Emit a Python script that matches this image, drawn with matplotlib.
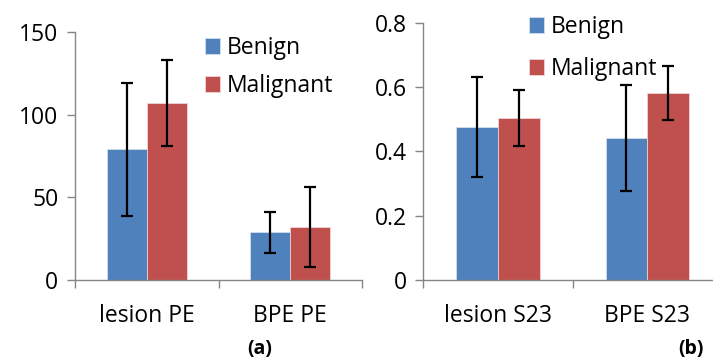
import matplotlib.pyplot as plt
import numpy as np

plt.rcParams['font.family'] = ['Open Sans', 'DejaVu Sans']

groups = ['Benign', 'Malignant']
colors = ['#4F81BD', '#C0504D']

pe_labels = ['lesion PE', 'BPE PE']
pe_benign = [79, 29]
pe_benign_err = [40, 12.4]
pe_malig = [107, 32]
pe_malig_err = [26, 24]

s23_labels = ['lesion S23', 'BPE S23']
s23_benign = [0.475, 0.441]
s23_benign_err = [0.156, 0.164]
s23_malig = [0.504, 0.581]
s23_malig_err = [0.088, 0.084]

W, H = 713, 360
fig = plt.figure(figsize=(W / 100, H / 100), dpi=100)

axis_grey = '#868686'
fs = 16.5
bw = 0.28


def panel(rect, labels, benign, benign_err, malig, malig_err, ylim, yticks, ytl, leg_xy, spacing):
    ax = fig.add_axes(rect)
    x = np.arange(len(labels)) + 0.5
    ax.bar(x - bw / 2, benign, bw, color=colors[0], edgecolor='#dbe5f1', linewidth=0.5, label=groups[0])
    ax.bar(x + bw / 2, malig, bw, color=colors[1], edgecolor='#f2dcdb', linewidth=0.5, label=groups[1])
    ax.errorbar(x - bw / 2, benign, yerr=benign_err, fmt='none', ecolor='black',
                elinewidth=1.6, capsize=4.3, capthick=1.6)
    ax.errorbar(x + bw / 2, malig, yerr=malig_err, fmt='none', ecolor='black',
                elinewidth=1.6, capsize=4.3, capthick=1.6)
    ax.set_xlim(0, len(labels))
    ax.set_ylim(*ylim)
    ax.set_yticks(yticks)
    ax.set_yticklabels(ytl)
    ax.set_xticks(np.arange(len(labels) + 1))
    ax.set_xticklabels([])
    ax.set_xticks(x, minor=True)
    ax.set_xticklabels(labels, minor=True)
    for s in ['top', 'right']:
        ax.spines[s].set_visible(False)
    for s in ['left', 'bottom']:
        ax.spines[s].set_color(axis_grey)
        ax.spines[s].set_linewidth(1.0)
    ax.tick_params(axis='y', which='major', length=6, width=1.0, color=axis_grey,
                   labelsize=fs, pad=6)
    ax.tick_params(axis='x', which='major', length=6, width=1.0, color=axis_grey)
    ax.tick_params(axis='x', which='minor', length=0, labelsize=fs, pad=17)
    ax.legend(loc='upper left', bbox_to_anchor=leg_xy, bbox_transform=fig.transFigure,
              frameon=False, fontsize=fs, borderpad=0, borderaxespad=0,
              handlelength=0.66, handleheight=0.66, handletextpad=0.3, labelspacing=spacing)
    return ax


panel([75 / W, 80 / H, 287 / W, 248 / H], pe_labels, pe_benign, pe_benign_err,
      pe_malig, pe_malig_err, (0, 150), [0, 50, 100, 150], ['0', '50', '100', '150'],
      (205 / W, 1 - 36 / H), 0.62)
panel([423.3 / W, 80 / H, 298.7 / W, 257.3 / H], s23_labels, s23_benign, s23_benign_err,
      s23_malig, s23_malig_err, (0, 0.8), [0, 0.2, 0.4, 0.6, 0.8],
      ['0', '0.2', '0.4', '0.6', '0.8'], (529 / W, 1 - 15 / H), 0.78)

fig.text(260 / W, 1 - 339 / H, '(a)', ha='center', va='top', fontsize=14, fontweight='bold')
fig.text(691 / W, 1 - 339 / H, '(b)', ha='center', va='top', fontsize=14, fontweight='bold')

fig.savefig('out.png', dpi=100)
